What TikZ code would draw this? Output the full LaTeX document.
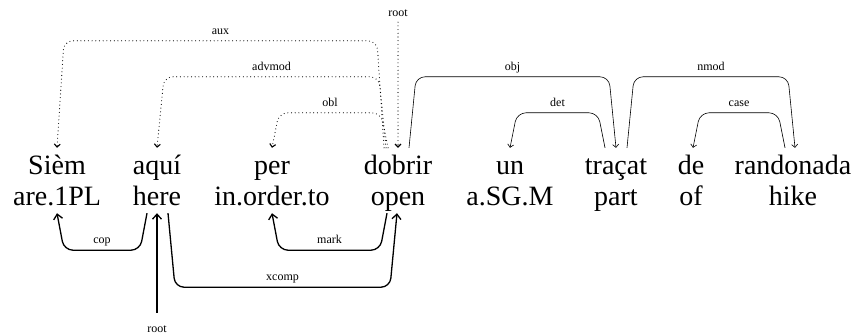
\documentclass[tikz,border=0pt]{standalone}
\usepackage{fontspec}
\setmainfont{Liberation Serif}
\usetikzlibrary{positioning, calc, arrows.meta}

\begin{document}
\begin{tikzpicture}[
    x=1pt, y=-1pt,
    % --- STYLES ---
    word/.style={anchor=base, font=\fontsize{28}{30}\selectfont, inner xsep=0pt, inner ysep=8pt, text height=19pt, text depth=6pt},
    gloss/.style={word, inner ysep=2pt}, % English gloss row
    deplabel/.style={font=\fontsize{12}{12}\selectfont, inner sep=0pt, text height=8pt, text depth=0pt},
    arclabel/.style={deplabel, above=6pt},
    toparc/.style={line width=0.6pt, rounded corners=9pt, -{Straight Barb[length=3pt,width=6pt]}},
    dotarc/.style={toparc, line width=1.1pt, dash pattern=on 0pt off 3.7pt, line cap=round},
    botarc/.style={line width=1.3pt, rounded corners=9pt, -{Straight Barb[length=5pt,width=9pt]}}
]
\useasboundingbox (0,0) rectangle (857,334);

% --- 1. WORDS (Occitan) ---
\node[word] (siem) at (57,175) {Sièm};
\node[word] (aqui) at (157,175) {aquí};
\node[word] (per) at (272,175) {per};
\node[word] (dobrir) at (398,175) {dobrir};
\node[word] (un) at (510,175) {un};
\node[word] (tracat) at (616,175) {traçat};
\node[word] (de) at (691,175) {de};
\node[word] (randonada) at (793,175) {randonada};

% --- 2. GLOSSES ---
\node[gloss] (are) at (57,205) {are.1PL};
\node[gloss] (here) at (157,205) {here};
\node[gloss] (inorderto) at (272,205) {in.order.to};
\node[gloss] (open) at (398,205) {open};
\node[gloss] (asgm) at (510,205) {a.SG.M};
\node[gloss] (part) at (616,205) {part};
\node[gloss] (of) at (691,205) {of};
\node[gloss] (hike) at (793,205) {hike};

% --- 3. ROOT LABELS ---
\node[deplabel, anchor=base] (toproot) at (398,17) {root};
\node[deplabel, anchor=base] (botroot) at (157,332) {root};

% --- UPPER ARCS ---
% dotted set
\draw[dotarc, shorten <=5pt] (toproot) -- (dobrir.north);
\draw[dotarc] ([xshift=-14pt]dobrir.north) -- ++(-7,-107) -- node[arclabel] {aux} ($(siem.north)+(7,-107)$) -- (siem.north);
\draw[dotarc] ([xshift=-12pt]dobrir.north) -- ++(-7,-71) -- node[arclabel] {advmod} ($(aqui.north)+(7,-71)$) -- (aqui.north);
\draw[dotarc] ([xshift=-10pt]dobrir.north) -- ++(-7,-35) -- node[arclabel] {obl} ($(per.north)+(7,-35)$) -- (per.north);

% solid set
\draw[toparc] ([xshift=11pt]dobrir.north) -- ++(7,-71) -- node[arclabel] {obj} ($(tracat.north)+(-7,-71)$) -- (tracat.north);
\draw[toparc] ([xshift=-11pt]tracat.north) -- ++(-7,-35) -- node[arclabel] {det} ($(un.north)+(7,-35)$) -- (un.north);
\draw[toparc] ([xshift=11pt]tracat.north) -- ++(7,-71) -- node[arclabel] {nmod} ($(randonada.north)+(-5,-71)$) -- ([xshift=2pt]randonada.north);
\draw[toparc] ([xshift=-8pt]randonada.north) -- ++(-7,-35) -- node[arclabel] {case} ($(de.north)+(9,-35)$) -- ([xshift=2pt]de.north);

% --- LOWER ARCS ---
\draw[botarc, shorten <=11pt] (botroot) -- (here.south);
\draw[botarc] ([xshift=-10pt]here.south) -- ++(-7,37) -- node[arclabel] {cop} ($(are.south)+(7,37)$) -- (are.south);
\draw[botarc] ([xshift=11pt]here.south) -- ++(7,74) -- node[arclabel] {xcomp} ($(open.south)+(-8,74)$) -- ([xshift=-1pt]open.south);
\draw[botarc] ([xshift=-11pt]open.south) -- ++(-7,37) -- node[arclabel] {mark} ($(inorderto.south)+(7,37)$) -- (inorderto.south);

\end{tikzpicture}
\end{document}
